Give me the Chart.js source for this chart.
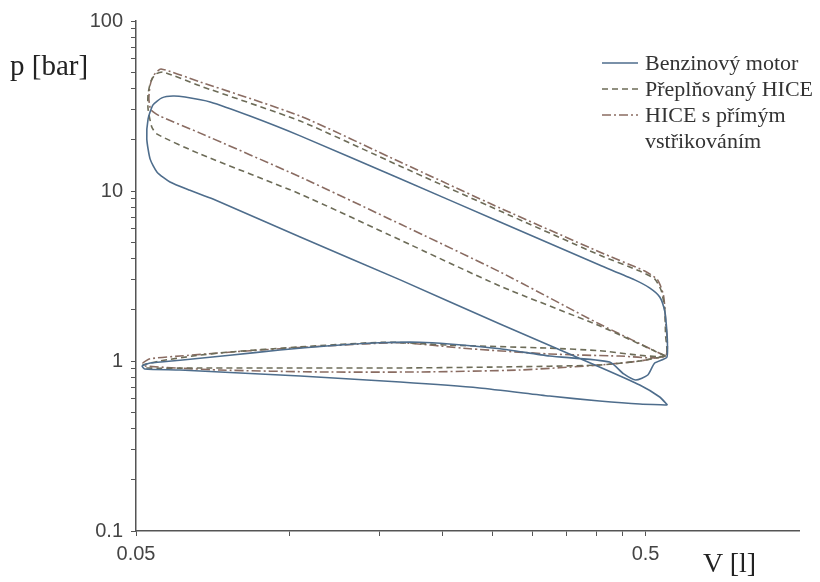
<!DOCTYPE html>
<html>
<head>
<meta charset="utf-8">
<script src="https://cdn.jsdelivr.net/npm/chart.js@4.4.1/dist/chart.umd.min.js"></script>
<style>
  body { margin: 0; background: #fff; }
  #wrap { position: relative; width: 820px; height: 582px; }
  .lbl { position: absolute; font-family: "Liberation Serif", "DejaVu Serif", serif; color: #222; white-space: nowrap; }
  #legend { position: absolute; left: 600px; top: 50px; font-family: "Liberation Serif", serif; font-size: 22px; color: #333; white-space: nowrap; }
  #legend .row { height: 26px; display: flex; align-items: center; }
  #legend svg { width: 40px; height: 10px; margin-right: 5px; flex: none; }
  #legend .cont { padding-left: 45px; height: 26px; line-height: 26px; }
</style>
</head>
<body>
<div id="wrap">
  <canvas id="pvChart" width="820" height="582"></canvas>
  <div class="lbl" style="left:10px; top:49px; font-size:29px;">p [bar]</div>
  <div class="lbl" style="left:703px; top:547px; font-size:28px;">V [l]</div>
  <div id="legend"></div>
</div>
<script>
// Benzinový motor (V [l], p [bar])
const benzinV = [0.552, 0.533, 0.487, 0.406, 0.259, 0.165, 0.105, 0.0708, 0.0638, 0.0583, 0.055, 0.0533, 0.0525, 0.0528, 0.054, 0.0562, 0.0591, 0.0624, 0.0699, 0.0837, 0.105, 0.165, 0.259, 0.406, 0.476, 0.509, 0.533, 0.545, 0.55, 0.552, 0.55, 0.521, 0.505, 0.478, 0.453, 0.425, 0.324, 0.259, 0.206, 0.18, 0.15, 0.12, 0.0958, 0.0764, 0.061, 0.0533, 0.0514, 0.052, 0.061, 0.08, 0.105, 0.165, 0.236, 0.324, 0.406, 0.487, 0.552];
const benzinP = [0.551, 0.614, 0.722, 0.922, 1.65, 3.0, 5.36, 8.97, 10.1, 11.3, 12.9, 15.4, 20.2, 26.5, 32.1, 35.3, 36.2, 35.7, 33.4, 27.6, 21.1, 11.8, 6.57, 3.67, 3.0, 2.69, 2.38, 1.97, 1.54, 1.21, 1.05, 0.973, 0.827, 0.773, 0.839, 0.986, 1.07, 1.18, 1.26, 1.29, 1.28, 1.23, 1.16, 1.08, 1.01, 0.973, 0.935, 0.897, 0.885, 0.85, 0.816, 0.752, 0.694, 0.622, 0.582, 0.558, 0.551];

// Přeplňovaný HICE
const turboV = [0.547, 0.406, 0.259, 0.165, 0.105, 0.0668, 0.055, 0.0537, 0.0528, 0.0528, 0.0535, 0.0547, 0.0565, 0.0668, 0.105, 0.165, 0.259, 0.406, 0.487, 0.521, 0.537, 0.545, 0.547, 0.547, 0.406, 0.324, 0.206, 0.154, 0.105, 0.0764, 0.0647, 0.0557, 0.0516, 0.052, 0.0668, 0.105, 0.165, 0.259, 0.406, 0.487, 0.547];
const turboP = [1.07, 1.61, 2.76, 5.15, 9.6, 16.5, 21.6, 23.8, 30.4, 37.2, 44.4, 48.8, 50.1, 41.5, 25.8, 14.0, 7.63, 4.2, 3.38, 3.04, 2.58, 2.02, 1.44, 1.07, 1.15, 1.19, 1.24, 1.29, 1.21, 1.13, 1.07, 1.0, 0.947, 0.91, 0.91, 0.91, 0.91, 0.922, 0.947, 1.0, 1.07];

// HICE s přímým vstřikováním
const diV = [0.547, 0.406, 0.259, 0.165, 0.105, 0.0668, 0.0557, 0.0535, 0.053, 0.0533, 0.0542, 0.056, 0.0668, 0.105, 0.165, 0.259, 0.406, 0.498, 0.528, 0.542, 0.547, 0.547, 0.444, 0.324, 0.226, 0.165, 0.12, 0.0837, 0.061, 0.0533, 0.0516, 0.052, 0.0731, 0.115, 0.18, 0.283, 0.406, 0.487, 0.547];
const diP = [1.07, 1.65, 3.34, 6.39, 12.1, 21.9, 27.6, 30.0, 34.8, 42.0, 48.1, 52.2, 43.8, 27.6, 14.8, 7.94, 4.38, 3.38, 3.0, 2.44, 1.77, 1.07, 1.07, 1.10, 1.18, 1.28, 1.23, 1.15, 1.07, 1.03, 0.973, 0.935, 0.885, 0.862, 0.862, 0.885, 0.947, 1.0, 1.07];

const seriesNames = ['Benzinový motor', 'Přeplňovaný HICE', 'HICE s přímým\nvstřikováním'];
const xTicks = [0.05, 0.1, 0.15, 0.2, 0.25, 0.3, 0.35, 0.4, 0.45, 0.5];
const xLabels = [0.05, 0.5];
const yTicks = [0.1, 0.2, 0.3, 0.4, 0.5, 0.6, 0.7, 0.8, 0.9, 1, 2, 3, 4, 5, 6, 7, 8, 9, 10, 20, 30, 40, 50, 60, 70, 80, 90, 100];
const yLabels = [0.1, 1, 10, 100];

const colors = ['#4e6d8c', '#6d6c58', '#8a6c62'];
const dashes = [[], [6, 4], [9, 3, 2, 3]];

function pts(xs, ys) {
    return xs.map((v, i) => ({ x: v, y: ys[i] }));
}

const tickFont = { family: '"Liberation Sans", Arial, sans-serif', size: 20 };

const ctx = document.getElementById('pvChart').getContext('2d');
const pvChart = new Chart(ctx, {
    type: 'scatter',
    data: {
        datasets: [
            { label: seriesNames[0], data: pts(benzinV, benzinP) },
            { label: seriesNames[1], data: pts(turboV, turboP) },
            { label: seriesNames[2], data: pts(diV, diP) }
        ].map((d, i) => Object.assign(d, {
            showLine: true,
            borderColor: colors[i],
            borderDash: dashes[i],
            borderWidth: 1.6,
            pointRadius: 0,
            tension: 0.2,
            fill: false
        }))
    },
    options: {
        responsive: false,
        animation: false,
        layout: { padding: { top: 21, right: 21, left: 0, bottom: 0 } },
        plugins: { legend: { display: false }, tooltip: { enabled: false } },
        scales: {
            x: {
                type: 'logarithmic',
                min: 0.05,
                max: 1.0,
                afterBuildTicks: s => { s.ticks = xTicks.map(v => ({ value: v })); },
                afterFit: s => { s.height = 51; },
                grid: { drawOnChartArea: false, drawTicks: true, tickLength: 5, color: '#555' },
                border: { display: true, color: '#555', width: 1.5 },
                ticks: {
                    autoSkip: false,
                    maxRotation: 0,
                    padding: 6,
                    color: '#444',
                    font: tickFont,
                    callback: v => xLabels.includes(v) ? String(v) : ''
                }
            },
            y: {
                type: 'logarithmic',
                min: 0.1,
                max: 100,
                afterBuildTicks: s => { s.ticks = yTicks.map(v => ({ value: v })); },
                afterFit: s => { s.width = 136; },
                grid: { drawOnChartArea: false, drawTicks: true, tickLength: 5, color: '#555' },
                border: { display: true, color: '#555', width: 1.5 },
                ticks: {
                    autoSkip: false,
                    padding: 8,
                    color: '#444',
                    font: tickFont,
                    callback: v => yLabels.includes(v) ? String(v) : ''
                }
            }
        }
    }
});

// legenda
const legend = document.getElementById('legend');
seriesNames.forEach((name, i) => {
    const lines = name.split('\n');
    const row = document.createElement('div');
    row.className = 'row';
    row.innerHTML = '<svg viewBox="0 0 40 10"><line x1="2" y1="5" x2="38" y2="5" stroke="' + colors[i] +
        '" stroke-width="1.6" stroke-dasharray="' + (dashes[i].length ? dashes[i].join(' ') : 'none') + '"/></svg><span>' + lines[0] + '</span>';
    legend.appendChild(row);
    lines.slice(1).forEach(t => {
        const c = document.createElement('div');
        c.className = 'cont';
        c.textContent = t;
        legend.appendChild(c);
    });
});
</script>
</body>
</html>
